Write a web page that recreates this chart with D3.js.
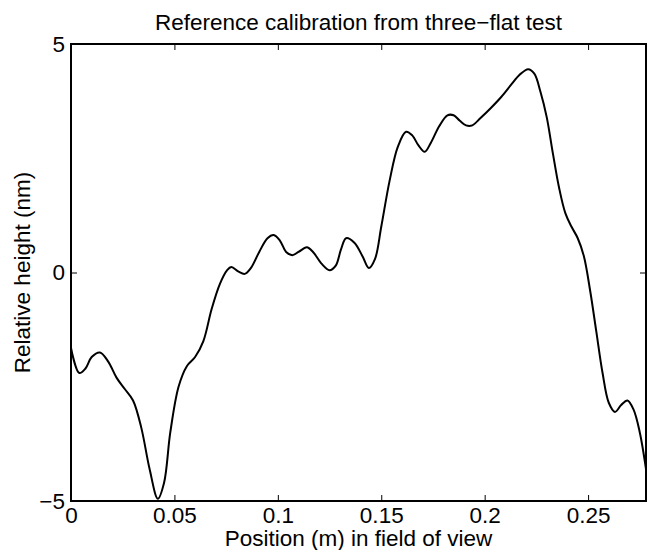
<!DOCTYPE html>
<html>
<head>
<meta charset="utf-8">
<script src="https://cdn.jsdelivr.net/npm/d3@7"></script>
<style>
  body { margin: 0; background: #fff; }
  svg text { font-family: "Liberation Sans", Arial, Helvetica, sans-serif; fill: #000; }
</style>
</head>
<body>
<script>
// position along field of view (m)
var pos = [0.000, 0.004, 0.007, 0.010, 0.014, 0.018, 0.022, 0.026, 0.030, 0.034,
  0.038, 0.042, 0.045, 0.048, 0.052, 0.056, 0.060, 0.064, 0.068, 0.072,
  0.0755, 0.0775, 0.081, 0.084, 0.087, 0.091, 0.095, 0.098, 0.101, 0.104,
  0.107, 0.110, 0.114, 0.117, 0.121, 0.125, 0.128, 0.1305, 0.133, 0.137,
  0.141, 0.144, 0.147, 0.150, 0.154, 0.158, 0.162, 0.165, 0.168, 0.171,
  0.174, 0.178, 0.182, 0.185, 0.188, 0.191, 0.194, 0.198, 0.203, 0.208,
  0.213, 0.217, 0.221, 0.224, 0.227, 0.230, 0.233, 0.236, 0.239, 0.242,
  0.245, 0.248, 0.251, 0.254, 0.257, 0.260, 0.263, 0.266, 0.269, 0.272,
  0.275, 0.278];
// relative height (nm)
var height = [-1.65, -2.2, -2.1, -1.85, -1.75, -1.95, -2.3, -2.55, -2.8, -3.4,
  -4.3, -4.95, -4.6, -3.5, -2.5, -2.05, -1.85, -1.5, -0.8, -0.25,
  0.05, 0.12, 0.02, -0.03, 0.1, 0.45, 0.75, 0.82, 0.7, 0.45,
  0.38, 0.45, 0.55, 0.45, 0.2, 0.05, 0.15, 0.5, 0.75, 0.65,
  0.35, 0.1, 0.3, 1.0, 2.0, 2.75, 3.08, 3.0, 2.78, 2.64,
  2.84, 3.2, 3.44, 3.44, 3.32, 3.22, 3.22, 3.38, 3.6, 3.84,
  4.12, 4.33, 4.45, 4.35, 3.95, 3.4, 2.6, 1.85, 1.3, 1.0,
  0.75, 0.35, -0.4, -1.3, -2.2, -2.85, -3.05, -2.9, -2.8, -3.0,
  -3.5, -4.3];
var xTicks = [0, 0.05, 0.1, 0.15, 0.2, 0.25];
var xTickLabels = ["0", "0.05", "0.1", "0.15", "0.2", "0.25"];
var yTicks = [-5, 0, 5];
var yTickLabels = ["\u22125", "0", "5"];

var W = 652, H = 550;
var margin = {top: 44, right: 6, bottom: 49, left: 71};
var fs = 22.5;

var svg = d3.select("body").append("svg")
    .attr("width", W)
    .attr("height", H);

var x = d3.scaleLinear().domain([0, 0.278]).range([margin.left, W - margin.right]);
var y = d3.scaleLinear().domain([-5, 5]).range([H - margin.bottom, margin.top]);

var data = pos.map(function(p, i){ return {x: p, y: height[i]}; });

var line = d3.line()
    .x(function(d){ return x(d.x); })
    .y(function(d){ return y(d.y); })
    .curve(d3.curveCatmullRom.alpha(0.5));

svg.append("clipPath").attr("id", "clip")
    .append("rect")
    .attr("x", margin.left).attr("y", margin.top)
    .attr("width", W - margin.right - margin.left)
    .attr("height", H - margin.bottom - margin.top);

svg.append("path")
    .datum(data)
    .attr("clip-path", "url(#clip)")
    .attr("fill", "none")
    .attr("stroke", "#000")
    .attr("stroke-width", 2)
    .attr("d", line);

// axes box with inward ticks, like matlab
var tl = 6;
var xb = d3.axisBottom(x).tickValues(xTicks).tickSize(-tl).tickPadding(6)
    .tickFormat(function(d, i){ return xTickLabels[i]; });
var xt = d3.axisTop(x).tickValues(xTicks).tickSize(-tl).tickFormat("");
var yl = d3.axisLeft(y).tickValues(yTicks).tickSize(-tl).tickPadding(6)
    .tickFormat(function(d, i){ return yTickLabels[i]; });
var yr = d3.axisRight(y).tickValues(yTicks).tickSize(-tl).tickFormat("");

function styleAxis(g) {
  g.selectAll(".domain").remove();
  g.selectAll("line").attr("stroke", "#000").attr("stroke-width", 1);
  g.selectAll("text").attr("font-size", fs).attr("font-family", null);
}

svg.append("g").attr("transform", "translate(0," + (H - margin.bottom) + ")").call(xb).call(styleAxis);
svg.append("g").attr("transform", "translate(0," + margin.top + ")").call(xt).call(styleAxis);
svg.append("g").attr("transform", "translate(" + margin.left + ",0)").call(yl).call(styleAxis);
svg.append("g").attr("transform", "translate(" + (W - margin.right) + ",0)").call(yr).call(styleAxis);

svg.append("rect")
    .attr("x", margin.left).attr("y", margin.top)
    .attr("width", W - margin.right - margin.left)
    .attr("height", H - margin.bottom - margin.top)
    .attr("fill", "none").attr("stroke", "#000").attr("stroke-width", 2);

var cx = (margin.left + W - margin.right) / 2;

svg.append("text")
    .attr("x", cx)
    .attr("y", 30)
    .attr("text-anchor", "middle")
    .attr("font-size", fs)
    .text("Reference calibration from three\u2212flat test");

svg.append("text")
    .attr("x", cx)
    .attr("y", 546)
    .attr("text-anchor", "middle")
    .attr("font-size", fs)
    .text("Position (m) in field of view");

svg.append("text")
    .attr("transform", "translate(30," + ((margin.top + H - margin.bottom) / 2) + ") rotate(-90)")
    .attr("text-anchor", "middle")
    .attr("font-size", fs)
    .text("Relative height (nm)");
</script>
</body>
</html>
